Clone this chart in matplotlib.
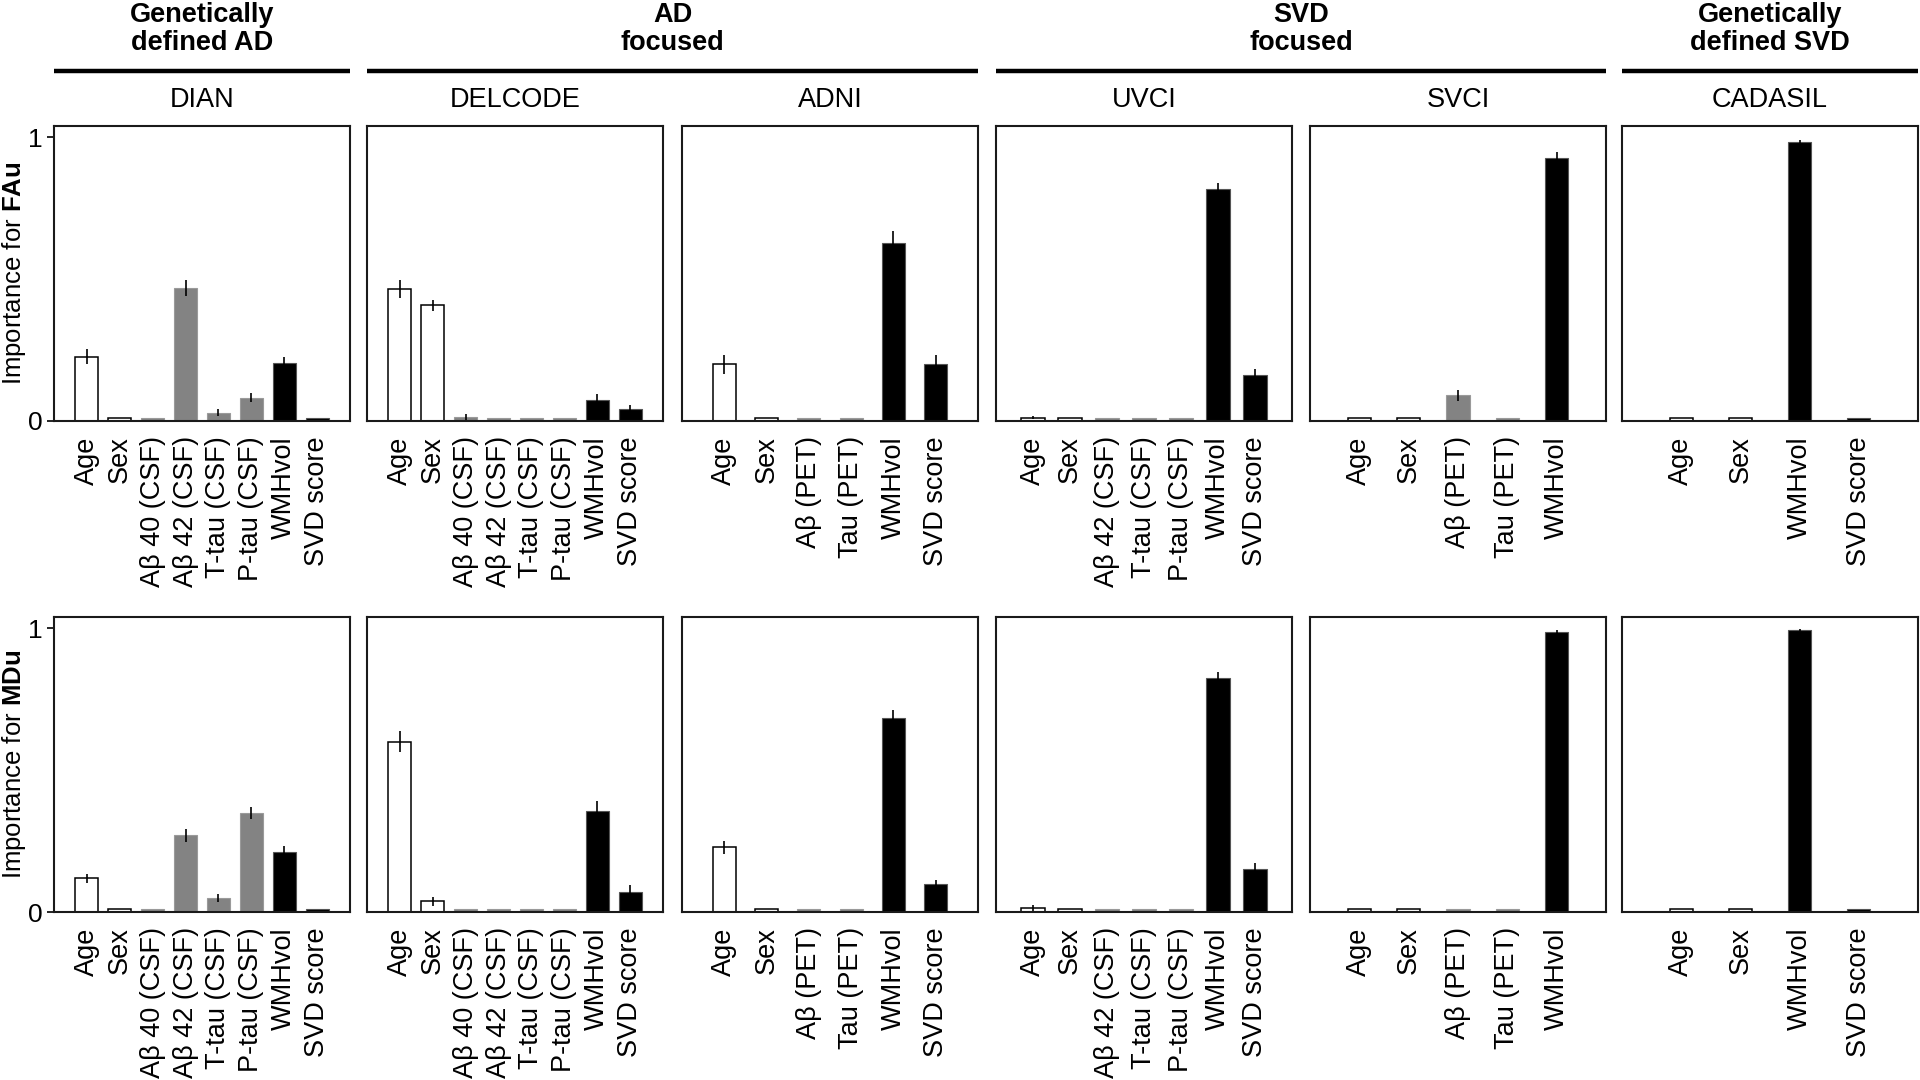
import matplotlib
matplotlib.use("Agg")
import matplotlib.pyplot as plt
from matplotlib.lines import Line2D

plt.rcParams['font.family'] = ['Liberation Sans', 'DejaVu Sans']
plt.rcParams['mathtext.fontset'] = 'custom'
plt.rcParams['mathtext.rm'] = 'Liberation Sans'
plt.rcParams['mathtext.bf'] = 'Liberation Sans:bold'

# ---------------- data ----------------
datasets = ["DIAN", "DELCODE", "ADNI", "UVCI", "SVCI", "CADASIL"]

dian_feats = ["Age", "Sex", "Aβ 40 (CSF)", "Aβ 42 (CSF)", "T-tau (CSF)", "P-tau (CSF)", "WMHvol", "SVD score"]
delcode_feats = ["Age", "Sex", "Aβ 40 (CSF)", "Aβ 42 (CSF)", "T-tau (CSF)", "P-tau (CSF)", "WMHvol", "SVD score"]
adni_feats = ["Age", "Sex", "Aβ (PET)", "Tau (PET)", "WMHvol", "SVD score"]
uvci_feats = ["Age", "Sex", "Aβ 42 (CSF)", "T-tau (CSF)", "P-tau (CSF)", "WMHvol", "SVD score"]
svci_feats = ["Age", "Sex", "Aβ (PET)", "Tau (PET)", "WMHvol"]
cadasil_feats = ["Age", "Sex", "WMHvol", "SVD score"]

# Importance for FAu
dian_fa = [0.227, 0.010, 0.010, 0.469, 0.029, 0.082, 0.203, 0.010]
dian_fa_err = [0.026, 0.0, 0.0, 0.029, 0.013, 0.015, 0.022, 0.0]
delcode_fa = [0.464, 0.407, 0.014, 0.010, 0.010, 0.010, 0.073, 0.042]
delcode_fa_err = [0.031, 0.020, 0.010, 0.0, 0.0, 0.0, 0.022, 0.016]
adni_fa = [0.200, 0.010, 0.010, 0.010, 0.627, 0.202]
adni_fa_err = [0.033, 0.0, 0.0, 0.0, 0.042, 0.030]
uvci_fa = [0.012, 0.010, 0.010, 0.010, 0.010, 0.817, 0.163]
uvci_fa_err = [0.006, 0.0, 0.0, 0.0, 0.0, 0.022, 0.020]
svci_fa = [0.010, 0.010, 0.090, 0.010, 0.926]
svci_fa_err = [0.0, 0.0, 0.020, 0.0, 0.021]
cadasil_fa = [0.010, 0.010, 0.984, 0.010]
cadasil_fa_err = [0.0, 0.0, 0.005, 0.0]

# Importance for MDu
dian_md = [0.118, 0.010, 0.010, 0.270, 0.048, 0.348, 0.213, 0.010]
dian_md_err = [0.017, 0.0, 0.0, 0.024, 0.014, 0.022, 0.019, 0.0]
delcode_md = [0.600, 0.038, 0.010, 0.010, 0.010, 0.010, 0.356, 0.072]
delcode_md_err = [0.036, 0.016, 0.0, 0.0, 0.0, 0.0, 0.034, 0.022]
adni_md = [0.228, 0.010, 0.010, 0.010, 0.685, 0.099]
adni_md_err = [0.022, 0.0, 0.0, 0.0, 0.026, 0.015]
uvci_md = [0.014, 0.010, 0.010, 0.010, 0.010, 0.824, 0.153]
uvci_md_err = [0.009, 0.0, 0.0, 0.0, 0.0, 0.021, 0.021]
svci_md = [0.010, 0.010, 0.010, 0.010, 0.986]
svci_md_err = [0.0, 0.0, 0.0, 0.0, 0.007]
cadasil_md = [0.010, 0.010, 0.994, 0.010]
cadasil_md_err = [0.0, 0.0, 0.003, 0.0]

group_titles = ["Genetically\ndefined AD", "AD\nfocused", "SVD\nfocused", "Genetically\ndefined SVD"]
group_spans = [(0, 0), (1, 2), (3, 4), (5, 5)]

row_labels = [r"Importance for $\mathbf{FAu}$", r"Importance for $\mathbf{MDu}$"]

feats = [dian_feats, delcode_feats, adni_feats, uvci_feats, svci_feats, cadasil_feats]
rows = [
    ([dian_fa, delcode_fa, adni_fa, uvci_fa, svci_fa, cadasil_fa],
     [dian_fa_err, delcode_fa_err, adni_fa_err, uvci_fa_err, svci_fa_err, cadasil_fa_err]),
    ([dian_md, delcode_md, adni_md, uvci_md, svci_md, cadasil_md],
     [dian_md_err, delcode_md_err, adni_md_err, uvci_md_err, svci_md_err, cadasil_md_err]),
]

# ---------------- style ----------------
W, H = 1920, 1080
panel_left_px = [54, 367, 682, 996, 1310, 1622]
panel_w_px = 296
row_top_px = [126, 617]
panel_h_px = 295
GRAY = "#838383"
FS = 19.5


def style_for(feat):
    if feat in ("Age", "Sex"):
        return "white", "black", 1.1
    if feat in ("WMHvol", "SVD score"):
        return "black", "#555555", 0.8
    return GRAY, "#9a9a9a", 0.8


fig = plt.figure(figsize=(W / 100, H / 100), dpi=100)

for r, (vals_list, errs_list) in enumerate(rows):
    for c in range(len(datasets)):
        left = panel_left_px[c] / W
        bottom = 1 - (row_top_px[r] + panel_h_px) / H
        ax = fig.add_axes([left, bottom, panel_w_px / W, panel_h_px / H])
        f = feats[c]
        vals = vals_list[c]
        errs = errs_list[c]
        n = len(f)
        x = list(range(n))
        width = 0.7 * (n + 1) / 9
        fc, ec, lw = zip(*[style_for(ff) for ff in f])
        ax.bar(x, vals, width=width, color=fc, edgecolor=ec, linewidth=lw, zorder=2)
        ax.errorbar(x, vals, yerr=errs, fmt="none", ecolor="black",
                    elinewidth=1.2, capsize=0, zorder=3)
        ax.set_xlim(-1, n)
        ax.set_ylim(0, 1.039)
        ax.set_xticks(x)
        ax.set_xticklabels(f, rotation=90, fontsize=FS)
        ax.tick_params(axis="x", length=0, pad=11)
        if c == 0:
            ax.set_yticks([0, 1])
            ax.set_yticklabels(["0", "1"], fontsize=19)
            ax.tick_params(axis="y", length=5, width=1.2, pad=3)
            ax.set_ylabel(row_labels[r], fontsize=18.5)
            ax.yaxis.set_label_coords(-0.088, 0.5)
        else:
            ax.set_yticks([])
        for s in ax.spines.values():
            s.set_linewidth(1.5)
            s.set_color("#1a1a1a")

# dataset labels
for c, name in enumerate(datasets):
    cx = (panel_left_px[c] + panel_w_px / 2) / W
    fig.text(cx, 1 - 100 / H, name, ha="center", va="center", fontsize=FS)

# group lines and titles
line_y = 1 - 71 / H
for title, (a, b) in zip(group_titles, group_spans):
    x0 = panel_left_px[a] / W
    x1 = (panel_left_px[b] + panel_w_px) / W
    fig.add_artist(Line2D([x0, x1], [line_y, line_y], transform=fig.transFigure,
                          color="black", linewidth=3.2, solid_capstyle="butt"))
    fig.text((x0 + x1) / 2, 1 - 29 / H, title, ha="center", va="center",
             fontsize=FS, fontweight="bold", linespacing=1.15)

fig.savefig("out.png", dpi=100, facecolor="white")
